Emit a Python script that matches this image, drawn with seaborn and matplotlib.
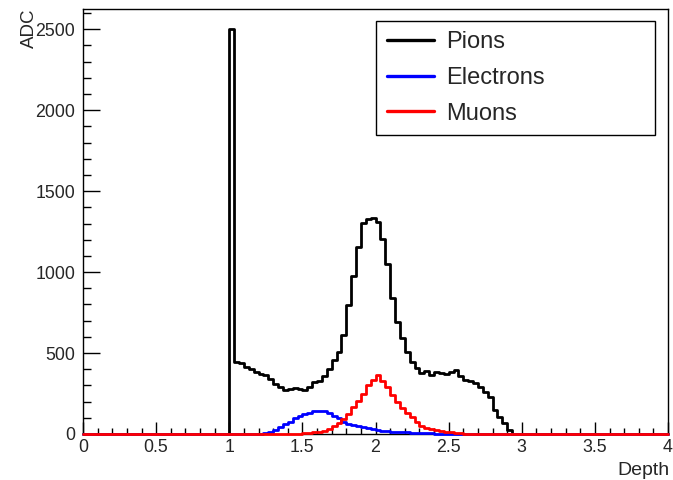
import numpy as np
import pandas as pd
import matplotlib
matplotlib.use("Agg")
import matplotlib.pyplot as plt
from matplotlib.lines import Line2D
from matplotlib.ticker import MultipleLocator, FuncFormatter
import seaborn as sns

# ---------------- data ----------------
# 120 bins from 0 to 4 (width 1/30); each list starts at the given bin index
n_bins = 120
depth_min, depth_max = 0.0, 4.0

pion_start = 30
pion_adc = [2500, 446, 440, 415, 400, 385, 372, 364, 340, 310, 292, 271, 275, 286,
            280, 271, 292, 323, 330, 360, 400, 460, 505, 611, 796, 975, 1156, 1305,
            1325, 1332, 1310, 1207, 1053, 837, 693, 590, 508, 446, 405, 374, 390, 364,
            383, 374, 372, 385, 395, 360, 335, 330, 313, 292, 261, 230, 148, 107, 66, 25]

electron_start = 37
electron_adc = [5, 15, 25, 45, 60, 76, 97, 110, 125, 131, 140, 142, 140, 131, 111, 97,
                76, 62, 58, 50, 45, 35, 30, 25, 20, 17, 14, 12, 11, 10, 9, 7, 6, 5, 4, 3, 2]

muon_start = 44
muon_adc = [3, 5, 7, 10, 14, 20, 30, 48, 68, 92, 125, 165, 205, 250, 300, 335, 362, 330,
            290, 240, 198, 163, 132, 102, 72, 50, 38, 29, 22, 17, 13, 10, 7, 5, 3, 2]

series_names = ["Pions", "Electrons", "Muons"]
series_colors = ["#000000", "#0000ff", "#ff0000"]

x_ticks = [0, 0.5, 1, 1.5, 2, 2.5, 3, 3.5, 4]
y_ticks = [0, 500, 1000, 1500, 2000, 2500]

# ---------------- build table ----------------
edges = np.linspace(depth_min, depth_max, n_bins + 1)
centers = (edges[:-1] + edges[1:]) / 2


def full_counts(start, vals):
    arr = np.zeros(n_bins)
    arr[start:start + len(vals)] = vals
    return arr


frames = []
for name, start, vals in [("Pions", pion_start, pion_adc),
                          ("Electrons", electron_start, electron_adc),
                          ("Muons", muon_start, muon_adc)]:
    frames.append(pd.DataFrame({"depth": centers, "adc": full_counts(start, vals),
                                "particle": name}))
df = pd.concat(frames, ignore_index=True)

# ---------------- style ----------------
sns.set_style("white")
plt.rcParams["font.family"] = ["Liberation Sans", "DejaVu Sans"]

fig = plt.figure(figsize=(6.73, 4.8), dpi=100)
ax = fig.add_axes([83 / 673, 46 / 480, 585 / 673, 425 / 480])

for name, color in zip(series_names, series_colors):
    sub = df[df["particle"] == name]
    sns.histplot(data=sub, x="depth", weights="adc", bins=n_bins,
                 binrange=(depth_min, depth_max), element="step",
                 fill=False, color=color, linewidth=2.0, ax=ax,
                 clip_on=False, zorder=3)

ax.set_xlim(0, 4)
ax.set_ylim(0, 2625)

for sp in ax.spines.values():
    sp.set_color("black")
    sp.set_linewidth(1.0)
    sp.set_visible(True)

ax.set_xticks(x_ticks)
ax.set_yticks(y_ticks)
ax.xaxis.set_minor_locator(MultipleLocator(0.1))
ax.yaxis.set_minor_locator(MultipleLocator(100))
ax.xaxis.set_major_formatter(FuncFormatter(lambda v, p: f"{v:g}"))
ax.yaxis.set_major_formatter(FuncFormatter(lambda v, p: f"{v:g}"))

ax.tick_params(which="both", direction="in", top=False, right=False,
               bottom=True, left=True, color="black", width=1.0)
ax.tick_params(axis="x", which="major", length=8.6, pad=3.5, labelsize=12.8)
ax.tick_params(axis="x", which="minor", length=4.3)
ax.tick_params(axis="y", which="major", length=12, pad=5.5, labelsize=12.8)
ax.tick_params(axis="y", which="minor", length=6)

ax.set_ylabel("ADC", loc="top", fontsize=13.5)
ax.yaxis.set_label_coords(-0.077, 1.0)
ax.set_xlabel("Depth", loc="right", fontsize=14)
ax.xaxis.set_label_coords(1.003, -0.066)

handles = [Line2D([0], [0], color=c, lw=2.4) for c in series_colors]
leg = ax.legend(handles, series_names, loc="upper left",
                bbox_to_anchor=(376 / 673, (480 - 131.7) / 480, 279 / 673, 111 / 480),
                bbox_transform=fig.transFigure, mode="expand",
                fontsize=17, frameon=True, fancybox=False, framealpha=1,
                edgecolor="black", borderpad=0.45, labelspacing=0.58,
                handlelength=2.0, handletextpad=0.5, borderaxespad=0)
leg.get_frame().set_linewidth(1.0)
leg.set_zorder(5)

fig.savefig("out.png", dpi=100, facecolor="white")
